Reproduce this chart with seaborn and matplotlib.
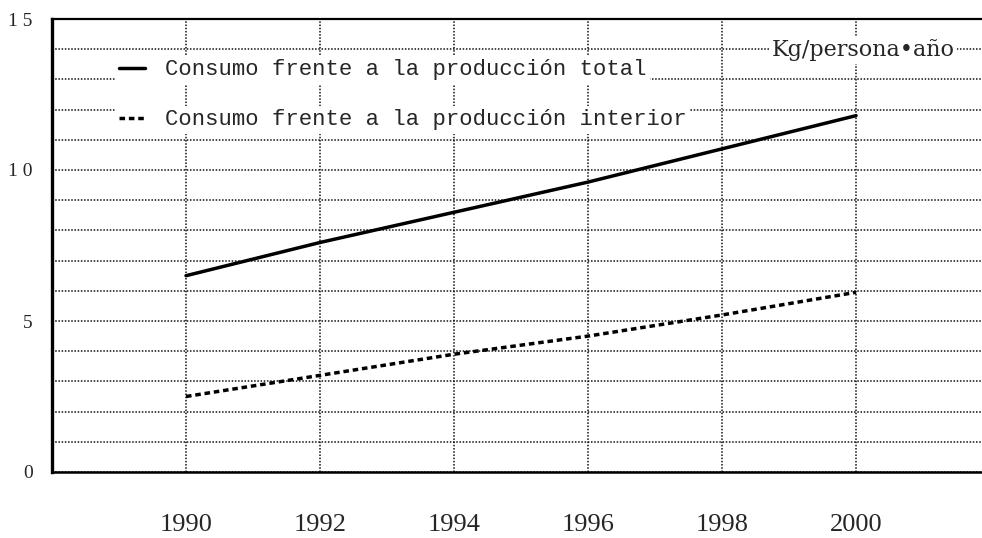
import pandas as pd
import matplotlib
matplotlib.use('Agg')
import matplotlib.pyplot as plt
import seaborn as sns

# Values (kg per person and year)
years = [1990, 1992, 1994, 1996, 1998, 2000]
consumo_total = [6.5, 7.6, 8.6, 9.6, 10.7, 11.8]
consumo_interior = [2.5, 3.2, 3.9, 4.5, 5.2, 5.95]
label_total = 'Consumo frente a la producción total'
label_interior = 'Consumo frente a la producción interior'
unit_label = 'Kg/persona•año'
y_major = [0, 5, 10, 15]
y_major_labels = ['0', '5', '1 0', '1 5']
y_minor = list(range(0, 16))

df = pd.DataFrame({
    'year': years * 2,
    'value': consumo_total + consumo_interior,
    'serie': [label_total] * len(years) + [label_interior] * len(years),
})

sns.set_style('white')
plt.rcParams['font.family'] = ['DejaVu Serif']

fig = plt.figure(figsize=(9.82, 5.38), dpi=100)
ax = fig.add_axes([52 / 982, 1 - 472 / 538, 1 - 52 / 982, (472 - 19) / 538])

grid_kw = dict(color='#111111', linestyle=(0, (1, 1.1)), linewidth=1.1)

# Lines
sns.lineplot(data=df[df['serie'] == label_total], x='year', y='value',
             color='black', linewidth=2.5, ax=ax, legend=False, zorder=3)
sns.lineplot(data=df[df['serie'] == label_interior], x='year', y='value',
             color='black', linewidth=2.5, linestyle=(0, (1.6, 1.1)),
             ax=ax, legend=False, zorder=3)

ax.set_xlim(1988, 2001.88)
ax.set_ylim(0, 15)

ax.set_xticks(years)
ax.set_xticklabels([str(y) for y in years], fontsize=19, family='Liberation Serif')
ax.set_yticks(y_major)
ax.set_yticklabels(y_major_labels, fontsize=14, family='Liberation Serif')
ax.set_yticks(y_minor, minor=True)
ax.tick_params(axis='x', length=0, pad=30)
ax.tick_params(axis='y', which='both', length=0, pad=14)

ax.grid(axis='x', which='major', **grid_kw)
ax.grid(axis='y', which='both', **grid_kw)
ax.set_axisbelow(True)

ax.set_xlabel('')
ax.set_ylabel('')

for side in ['left', 'top', 'bottom']:
    ax.spines[side].set_visible(True)
    ax.spines[side].set_color('black')
ax.spines['left'].set_linewidth(2.4)
ax.spines['top'].set_linewidth(1.6)
ax.spines['bottom'].set_linewidth(1.8)
ax.spines['right'].set_visible(False)

# Legend entries, each on its own row over the grid
lines = ax.get_lines()
leg_kw = dict(loc='center left', bbox_transform=fig.transFigure, borderaxespad=0,
              frameon=True, fancybox=False, facecolor='white', edgecolor='none',
              framealpha=1, handlelength=1.15, handletextpad=0.9, borderpad=0.15,
              prop={'family': 'Liberation Mono', 'size': 16})
leg1 = ax.legend([lines[0]], [label_total], bbox_to_anchor=(116 / 982, 1 - 70 / 538), **leg_kw)
ax.add_artist(leg1)
ax.legend([lines[1]], [label_interior], bbox_to_anchor=(116 / 982, 1 - 120 / 538), **leg_kw)

fig.text(863 / 982, 1 - 50 / 538, unit_label, ha='center', va='center',
         fontsize=16, family='DejaVu Serif',
         bbox=dict(facecolor='white', edgecolor='none', pad=2))

fig.savefig('out.png', dpi=100)
